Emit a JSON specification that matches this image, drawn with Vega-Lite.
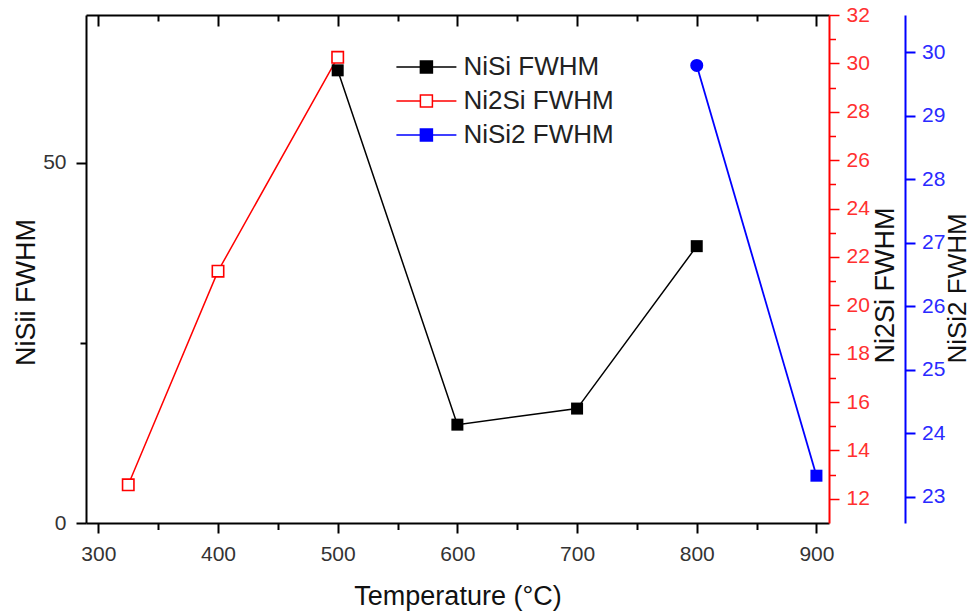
{
  "$schema": "https://vega.github.io/schema/vega-lite/v6.json",
  "width": 743,
  "height": 508,
  "autosize": {"type": "none"},
  "padding": {"left": 86, "top": 15, "right": 142, "bottom": 88},
  "background": "white",
  "config": {
    "view": {"stroke": null},
    "axis": {"labelFont": "Liberation Sans", "titleFont": "Liberation Sans", "titleFontWeight": "normal", "grid": false, "labelFontSize": 21, "titleFontSize": 27, "labelColor": "#333333", "titleColor": "#111111", "domainWidth": 2, "tickWidth": 2, "domainColor": "#000000", "tickColor": "#000000"},
    "legend": {"labelFont": "Liberation Sans"}
  },
  "data": {
    "values": [
      {"series": "NiSi FWHM", "T": 500, "v": 62.82},
      {"series": "NiSi FWHM", "T": 600, "v": 13.65},
      {"series": "NiSi FWHM", "T": 700, "v": 15.88},
      {"series": "NiSi FWHM", "T": 800, "v": 38.42},
      {"series": "Ni2Si FWHM", "T": 325, "v": 12.58},
      {"series": "Ni2Si FWHM", "T": 400, "v": 21.41},
      {"series": "Ni2Si FWHM", "T": 500, "v": 30.25},
      {"series": "NiSi2 FWHM", "T": 800, "v": 29.79},
      {"series": "NiSi2 FWHM", "T": 900, "v": 23.33}
    ]
  },
  "layer": [
    {
      "transform": [{"filter": "datum.series === 'Ni2Si FWHM'"}],
      "encoding": {
        "x": {"field": "T", "type": "quantitative", "scale": {"domain": [289.7, 910.5], "nice": false, "zero": false},
          "axis": {"orient": "top", "values": [300, 350, 400, 450, 500, 550, 600, 650, 700, 750, 800, 850, 900], "labels": false, "title": null,
            "tickSize": {"condition": {"test": "datum.value % 100 === 0", "value": -11}, "value": -6}}},
        "y": {"field": "v", "type": "quantitative", "scale": {"domain": [11, 32], "nice": false, "zero": false},
          "axis": {"orient": "right", "values": [12, 13, 14, 15, 16, 17, 18, 19, 20, 21, 22, 23, 24, 25, 26, 27, 28, 29, 30, 31, 32],
            "labelExpr": "datum.value % 2 === 0 ? datum.label : ''",
            "tickSize": {"condition": {"test": "datum.value % 2 === 0", "value": 10}, "value": 6.5},
            "domainColor": "#ff0000", "tickColor": "#ff0000", "labelColor": "#ff3030", "domainWidth": 2, "tickWidth": 1.5, "labelPadding": 7,
            "title": "Ni2Si FWHM", "titleAngle": -90, "titleBaseline": "middle", "titleAlign": "center", "titleX": 56, "titleY": 270}}
      },
      "layer": [
        {"mark": {"type": "line", "strokeWidth": 1.5},
         "encoding": {"color": {"field": "series", "type": "nominal",
           "scale": {"domain": ["NiSi FWHM", "Ni2Si FWHM", "NiSi2 FWHM"], "range": ["#000000", "#ff0000", "#0000ff"]},
           "legend": {"orient": "none", "legendX": 327.4, "legendY": 39, "title": null, "padding": 0,
             "symbolType": "M-5,0L-1,0M1,0L5,0M-1,-1L1,-1L1,1L-1,1Z", "symbolSize": 144, "symbolStrokeWidth": 1.5,
             "labelFontSize": 26, "labelColor": "#222222", "labelOffset": 24, "rowPadding": 8,
             "encode": {"symbols": {"update": {
               "fill": {"signal": "datum.value === 'Ni2Si FWHM' ? '#ffffff' : (datum.value === 'NiSi FWHM' ? '#000000' : '#0000ff')"},
               "stroke": {"signal": "datum.value === 'Ni2Si FWHM' ? '#ff0000' : (datum.value === 'NiSi FWHM' ? '#000000' : '#0000ff')"},
               "opacity": {"value": 1}, "fillOpacity": {"value": 1}}}}}}}},
        {"mark": {"type": "point", "shape": "square", "size": 130, "filled": false, "fill": "#ffffff", "fillOpacity": 1, "stroke": "#ff0000", "strokeWidth": 1.6, "opacity": 1}}
      ]
    },
    {
      "transform": [{"filter": "datum.series === 'NiSi FWHM'"}],
      "encoding": {
        "x": {"field": "T", "type": "quantitative", "scale": {"domain": [289.7, 910.5], "nice": false, "zero": false},
          "axis": {"orient": "bottom", "values": [300, 350, 400, 450, 500, 550, 600, 650, 700, 750, 800, 850, 900],
            "labelExpr": "datum.value % 100 === 0 ? datum.label : ''", "labelPadding": 10,
            "tickSize": {"condition": {"test": "datum.value % 100 === 0", "value": 10}, "value": 6.5},
            "title": "Temperature (°C)", "titleBaseline": "alphabetic", "titleY": 81}},
        "y": {"field": "v", "type": "quantitative", "scale": {"domain": [0, 70.5], "nice": false, "zero": false},
          "axis": {"orient": "left", "values": [0, 25, 50], "labelExpr": "datum.value % 50 === 0 ? datum.label : ''", "labelPadding": 10,
            "tickSize": {"condition": {"test": "datum.value % 50 === 0", "value": 10}, "value": 6},
            "title": "NiSii FWHM", "titleAngle": -90, "titleBaseline": "middle", "titleAlign": "center", "titleX": -60, "titleY": 277}}
      },
      "layer": [
        {"mark": {"type": "line", "strokeWidth": 1.5},
         "encoding": {"color": {"field": "series", "type": "nominal", "scale": {"domain": ["NiSi FWHM", "Ni2Si FWHM", "NiSi2 FWHM"], "range": ["#000000", "#ff0000", "#0000ff"]}}}},
        {"mark": {"type": "point", "shape": "square", "size": 144, "filled": true, "color": "#000000", "opacity": 1}}
      ]
    },
    {
      "transform": [{"filter": "datum.series === 'NiSi2 FWHM'"}],
      "encoding": {
        "x": {"field": "T", "type": "quantitative", "scale": {"domain": [289.7, 910.5], "nice": false, "zero": false}, "axis": null},
        "y": {"field": "v", "type": "quantitative", "scale": {"domain": [22.585, 30.585], "nice": false, "zero": false},
          "axis": {"orient": "right", "offset": 76, "values": [23, 23.5, 24, 24.5, 25, 25.5, 26, 26.5, 27, 27.5, 28, 28.5, 29, 29.5, 30, 30.5],
            "format": "d",
            "labelExpr": "datum.value % 1 === 0 ? datum.label : ''",
            "tickSize": {"condition": {"test": "datum.value % 1 === 0", "value": 10}, "value": 5},
            "domainColor": "#0000ff", "tickColor": "#0000ff", "labelColor": "#2a2aff", "domainWidth": 2, "tickWidth": 2, "labelPadding": 6.5,
            "title": "NiSi2 FWHM", "titleAngle": -90, "titleBaseline": "middle", "titleAlign": "center", "titleFontSize": 26, "titleX": 52, "titleY": 273}}
      },
      "layer": [
        {"mark": {"type": "line", "strokeWidth": 1.8},
         "encoding": {"color": {"field": "series", "type": "nominal", "scale": {"domain": ["NiSi FWHM", "Ni2Si FWHM", "NiSi2 FWHM"], "range": ["#000000", "#ff0000", "#0000ff"]}}}},
        {"mark": {"type": "point", "filled": true, "color": "#0000ff", "opacity": 1},
         "encoding": {
           "shape": {"condition": {"test": "datum.T === 800", "value": "circle"}, "value": "square"},
           "size": {"condition": {"test": "datum.T === 800", "value": 170}, "value": 144}}}
      ]
    }
  ],
  "resolve": {"scale": {"y": "independent"}, "axis": {"y": "independent", "x": "independent"}}
}
